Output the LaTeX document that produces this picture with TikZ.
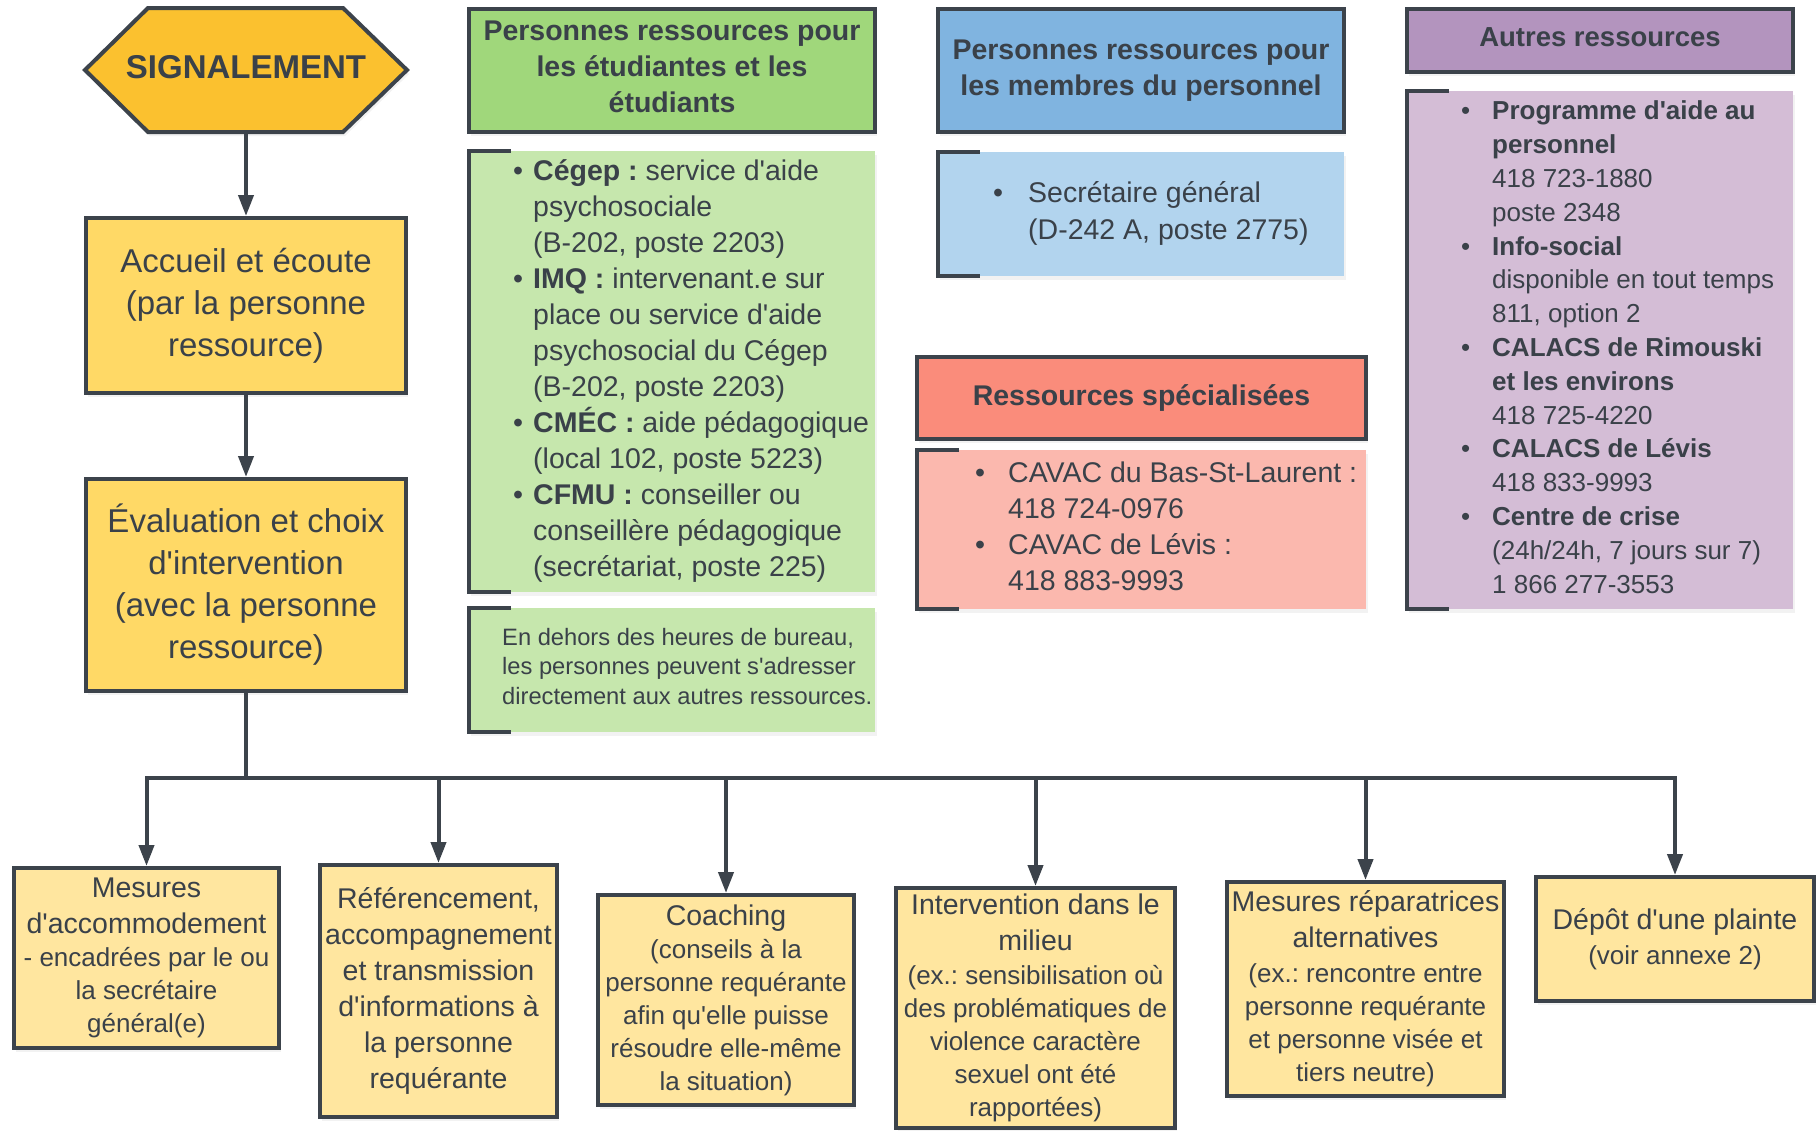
\documentclass[tikz,border=0pt]{standalone}
\usepackage{fontspec}
\setmainfont{Liberation Sans}[Ligatures=TeXOff]
\usetikzlibrary{arrows.meta,shadows}
\frenchspacing
\definecolor{txt}{HTML}{3A4149}
\definecolor{ln}{HTML}{3C434B}
\definecolor{hexc}{HTML}{FBC12F}
\definecolor{mainy}{HTML}{FFD966}
\definecolor{lighty}{HTML}{FFE69F}
\definecolor{grh}{HTML}{A0D77B}
\definecolor{grb}{HTML}{C6E7AD}
\definecolor{blh}{HTML}{80B4E0}
\definecolor{blb}{HTML}{B2D4EE}
\definecolor{rdh}{HTML}{FA8C7B}
\definecolor{rdb}{HTML}{FBB8AE}
\definecolor{puh}{HTML}{B394BE}
\definecolor{pub}{HTML}{D4BDD6}
\newcommand{\fA}{\fontsize{28.5}{36}\selectfont}
\newcommand{\fB}{\fontsize{26}{33}\selectfont}
\newcommand{\fD}{\fontsize{33}{42}\selectfont}
\newcommand{\mybul}[1]{\makebox[#1][l]{\textbullet}}
\newcommand{\myind}[1]{\hspace*{#1}}
\tikzset{
  shad/.style={drop shadow={shadow xshift=2pt, shadow yshift=-4pt, opacity=0.10}},
  box/.style={draw=ln, line width=4pt, text=txt, align=center, inner sep=0pt, shad},
  hdr/.style={box, font=\fA\bfseries},
  bodyfill/.style={fill=#1, inner sep=0pt, shad},
  brk/.style={draw=ln, line width=4.5pt},
  conn/.style={draw=ln, line width=4pt},
  arr/.style={conn, -{Triangle[width=15pt,length=21pt]}},
  lst/.style={anchor=base west, align=left, inner sep=0pt, text=txt},
  low/.style={box, fill=lighty, font=\fA}
}
\begin{document}
\frenchspacing
\begin{tikzpicture}[x=1pt,y=-1pt]
\useasboundingbox[fill=white] (0,0) rectangle (1820,1130);

% left column
\path[draw=ln, fill=hexc, line width=4pt, line join=miter, shad] (85,70) -- (148,8) -- (343,8) -- (407,70) -- (343,132) -- (148,132) -- cycle;
\node[inner sep=0pt, outer sep=0pt, minimum width=322pt, minimum height=124pt, font=\fD\bfseries, text=txt, text height=24pt, text depth=7pt] (sig) at (246,70) {SIGNALEMENT};
\node[box, fill=mainy, font=\fD, minimum width=320pt, minimum height=175pt] (acc) at (246,305.5) {Accueil et écoute\\(par la personne\\ressource)};
\node[box, fill=mainy, font=\fD, minimum width=320pt, minimum height=212pt] (eval) at (246,585) {Évaluation et choix\\d'intervention\\(avec la personne\\ressource)};

% green column
\node[hdr, fill=grh, minimum width=406pt, minimum height=123pt, text depth=7pt] (grhead) at (672,70.5) {Personnes ressources pour\\les étudiantes et les\\étudiants};
\node[bodyfill=grb, minimum width=406pt, minimum height=441pt] (grbody) at (672,371.5) {};
\draw[brk] ([xshift=42pt]grbody.north west) -- (grbody.north west) -- (grbody.south west) -- ([xshift=42pt]grbody.south west);
\node[lst, font=\fA] (grtext) at (513,576) {\mybul{20pt}\textbf{Cégep :} service d'aide\\
\myind{20pt}psychosociale\\
\myind{20pt}(B-202, poste 2203)\\
\mybul{20pt}\textbf{IMQ :} intervenant.e sur\\
\myind{20pt}place ou service d'aide\\
\myind{20pt}psychosocial du Cégep\\
\myind{20pt}(B-202, poste 2203)\\
\mybul{20pt}\textbf{CMÉC :} aide pédagogique\\
\myind{20pt}(local 102, poste 5223)\\
\mybul{20pt}\textbf{CFMU :} conseiller ou\\
\myind{20pt}conseillère pédagogique\\
\myind{20pt}(secrétariat, poste 225)};
\node[bodyfill=grb, minimum width=406pt, minimum height=124pt] (grnote) at (672,670) {};
\draw[brk] ([xshift=42pt]grnote.north west) -- (grnote.north west) -- (grnote.south west) -- ([xshift=42pt]grnote.south west);
\node[lst, font=\fontsize{23.7}{29.5}\selectfont] (grnotetext) at (502,704) {En dehors des heures de bureau,\\les personnes peuvent s'adresser\\directement aux autres ressources.};

% blue column
\node[hdr, fill=blh, minimum width=406pt, minimum height=123pt] (blhead) at (1141,70.5) {Personnes ressources pour\\les membres du personnel};
\node[bodyfill=blb, minimum width=406pt, minimum height=124pt] (blbody) at (1141,214) {};
\draw[brk] ([xshift=42pt]blbody.north west) -- (blbody.north west) -- (blbody.south west) -- ([xshift=42pt]blbody.south west);
\node[lst, font=\fontsize{28.5}{37}\selectfont] (bltext) at (993,239) {\mybul{35pt}Secrétaire général\\
\myind{35pt}(D-242 A, poste 2775)};

% red block
\node[hdr, fill=rdh, minimum width=449pt, minimum height=82pt] (rdhead) at (1141.5,398) {Ressources spécialisées};
\node[bodyfill=rdb, minimum width=449pt, minimum height=159pt] (rdbody) at (1141.5,529.5) {};
\draw[brk] ([xshift=42pt]rdbody.north west) -- (rdbody.north west) -- (rdbody.south west) -- ([xshift=42pt]rdbody.south west);
\node[lst, font=\fA] (rdtext) at (975,590) {\mybul{33pt}CAVAC du Bas-St-Laurent :\\
\myind{33pt}418 724-0976\\
\mybul{33pt}CAVAC de Lévis :\\
\myind{33pt}418 883-9993};

% purple column
\node[box, fill=puh, font=\fontsize{27.5}{34}\selectfont\bfseries, minimum width=386pt, minimum height=63pt, text height=20pt, text depth=8pt] (puhead) at (1600,40.5) {Autres ressources};
\node[bodyfill=pub, minimum width=386pt, minimum height=518pt] (pubody) at (1600,350) {};
\draw[brk] ([xshift=42pt]pubody.north west) -- (pubody.north west) -- (pubody.south west) -- ([xshift=42pt]pubody.south west);
\node[lst, font=\fontsize{26}{33.8}\selectfont] (putext) at (1461,593) {\mybul{31pt}\textbf{Programme d'aide au}\\
\myind{31pt}\textbf{personnel}\\
\myind{31pt}418 723-1880\\
\myind{31pt}poste 2348\\
\mybul{31pt}\textbf{Info-social}\\
\myind{31pt}disponible en tout temps\\
\myind{31pt}811, option 2\\
\mybul{31pt}\textbf{CALACS de Rimouski}\\
\myind{31pt}\textbf{et les environs}\\
\myind{31pt}418 725-4220\\
\mybul{31pt}\textbf{CALACS de Lévis}\\
\myind{31pt}418 833-9993\\
\mybul{31pt}\textbf{Centre de crise}\\
\myind{31pt}(24h/24h, 7 jours sur 7)\\
\myind{31pt}1 866 277-3553};

% bottom row
\node[low, minimum width=265pt, minimum height=180pt] (b1) at (146.5,958) {Mesures\\d'accommodement\\[-3pt]{\fB - encadrées par le ou}\\[-3pt]{\fB la secrétaire}\\[-3pt]{\fB général(e)}};
\node[low, minimum width=237pt, minimum height=252pt] (b2) at (438.5,991) {Référencement,\\accompagnement\\et transmission\\d'informations à\\la personne\\requérante};
\node[low, minimum width=256pt, minimum height=210pt] (b3) at (726,1000) {Coaching\\[-3pt]{\fB (conseils à la}\\[-3pt]{\fB personne requérante}\\[-3pt]{\fB afin qu'elle puisse}\\[-3pt]{\fB résoudre elle-même}\\[-3pt]{\fB la situation)}};
\node[low, minimum width=279pt, minimum height=240pt] (b4) at (1035.5,1008) {Intervention dans le\\milieu\\[-2pt]{\fB (ex.: sensibilisation où}\\[-3pt]{\fB des problématiques de}\\[-3pt]{\fB violence caractère}\\[-3pt]{\fB sexuel ont été}\\[-3pt]{\fB rapportées)}};
\node[low, minimum width=277pt, minimum height=214pt] (b5) at (1365.5,989) {Mesures réparatrices\\alternatives\\[-1pt]{\fB (ex.: rencontre entre}\\[-3pt]{\fB personne requérante}\\[-3pt]{\fB et personne visée et}\\[-3pt]{\fB tiers neutre)}};
\node[low, minimum width=278pt, minimum height=124pt] (b6) at (1675,939) {Dépôt d'une plainte\\[-1pt]{\fB (voir annexe 2)}};

% connectors
\draw[arr] (sig.south) -- (acc.north);
\draw[arr] (acc.south) -- (eval.north);
\coordinate (bus) at (246,778);
\draw[conn] (eval.south) -- (bus);
\foreach \b in {b1,b2,b3,b4,b5,b6} \draw[arr] (bus) -| (\b.north);
\end{tikzpicture}
\end{document}
